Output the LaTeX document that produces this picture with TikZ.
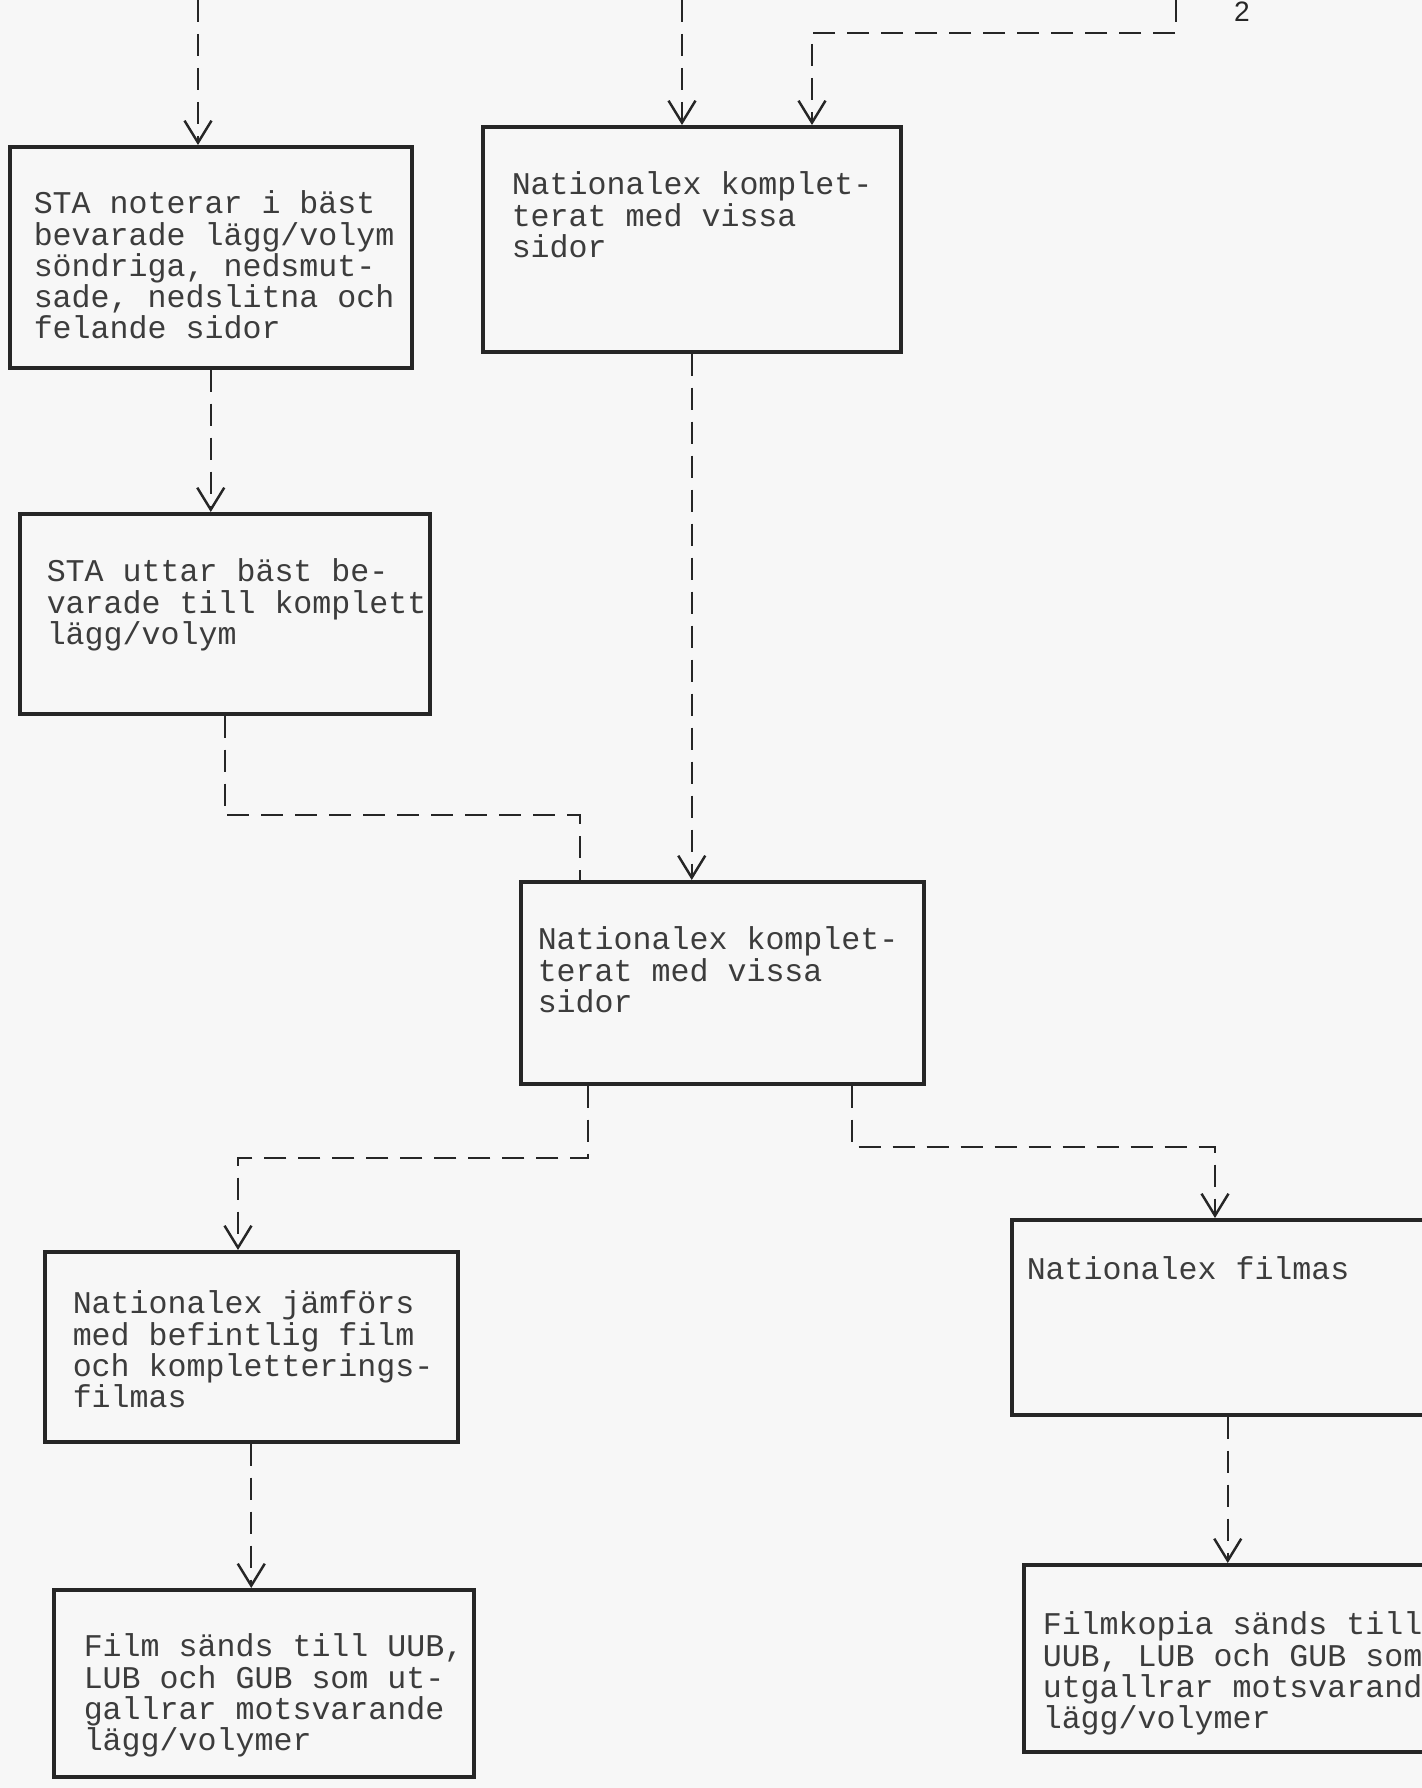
\documentclass[tikz,border=0pt]{standalone}
\usepackage{fontspec}
\usetikzlibrary{arrows.meta}
\newfontfamily\typew{Liberation Mono}
\newfontfamily\pagefont{Liberation Sans}
\definecolor{ink}{gray}{0.15}
\definecolor{paper}{gray}{0.97}
% box body: width, height, first baseline, left inset, lines
\newcommand{\paneltext}[5]{\parbox[c][#2][t]{#1}{\vspace*{\dimexpr#3-7pt\relax}\raggedright\leftskip=#4\rule{0pt}{7pt}#5}}

\begin{document}
\begin{tikzpicture}[x=0.1mm,y=-0.1mm,
  panel/.style={draw=ink, line width=1pt, anchor=north west, inner sep=0pt,
    text=ink!90, font=\typew\fontsize{9pt}{8.9pt}\selectfont},
  link/.style={draw=ink, line width=0.7pt, dash pattern=on 2.2mm off 1.2mm},
  flow/.style={link, -{Straight Barb[length=2.2mm,width=2.7mm,line width=0.7pt]}}]
\useasboundingbox (0,0) rectangle (1422,1788);
\clip (0,0) rectangle (1422,1788);
\fill[paper] (0,0) rectangle (1422,1788);
% page number
\node[font=\pagefont\fontsize{8pt}{9pt}\selectfont, text=ink] (pagenum) at (1242,12) {2};
% boxes
\node[panel] (noterar) at (8,145) {\paneltext{40.2mm}{22.1mm}{6.7mm}{2.4mm}{STA noterar i bäst\\bevarade lägg/volym\\söndriga, nedsmut-\\sade, nedslitna och\\felande sidor}};
\node[panel] (nat1) at (481,125) {\paneltext{41.8mm}{22.5mm}{6.8mm}{2.9mm}{Nationalex komplet-\\terat med vissa\\sidor}};
\node[panel] (uttar) at (18,512) {\paneltext{41.0mm}{20.0mm}{6.8mm}{2.7mm}{STA uttar bäst be-\\varade till komplett\\lägg/volym}};
\node[panel] (nat2) at (519,880) {\paneltext{40.3mm}{20.2mm}{6.8mm}{1.7mm}{Nationalex komplet-\\terat med vissa\\sidor}};
\node[panel] (jamfors) at (43,1250) {\paneltext{41.3mm}{19.0mm}{6.2mm}{2.8mm}{Nationalex jämförs\\med befintlig film\\och kompletterings-\\filmas}};
\node[panel] (filmas) at (1010,1218) {\paneltext{43.2mm}{19.5mm}{6.0mm}{1.5mm}{Nationalex filmas}};
\node[panel] (film) at (52,1588) {\paneltext{42.0mm}{18.7mm}{6.7mm}{3.0mm}{Film sänds till UUB,\\LUB och GUB som ut-\\gallrar motsvarande\\lägg/volymer}};
\node[panel] (kopia) at (1022,1563) {\paneltext{40.8mm}{18.7mm}{7.0mm}{1.9mm}{\mbox{Filmkopia sänds till}\\\mbox{UUB, LUB och GUB som}\\\mbox{utgallrar motsvarande}\\lägg/volymer}};
% free ends and bends
\coordinate (top1) at (198,0);
\coordinate (top2) at (682,0);
\coordinate (top3) at (1176,0);
\coordinate (bend3) at (812,33);
\coordinate (j1) at (580,815);
\coordinate (j2) at (588,1158);
\coordinate (j3) at (238,1158);
\coordinate (j4) at (852,1147);
\coordinate (j5) at (1215,1147);
% connectors
\draw[flow] (top1) -- (top1 |- noterar.north);
\draw[flow] (top2) -- (top2 |- nat1.north);
\draw[flow] (top3) |- (bend3) -- (bend3 |- nat1.north);
\draw[flow] (noterar.south) -- (noterar.south |- uttar.north);
\draw[flow] (nat1.south) -- (nat1.south |- nat2.north);
\draw[link] (uttar.south) |- (j1) -- (j1 |- nat2.north);
\draw[flow] (j2 |- nat2.south) -- (j2) -- (j3) -- (j3 |- jamfors.north);
\draw[flow] (j4 |- nat2.south) -- (j4) -- (j5) -- (j5 |- filmas.north);
\draw[flow] (jamfors.south) -- (jamfors.south |- film.north);
\draw[flow] (filmas.south) -- (filmas.south |- kopia.north);
\end{tikzpicture}
\end{document}
